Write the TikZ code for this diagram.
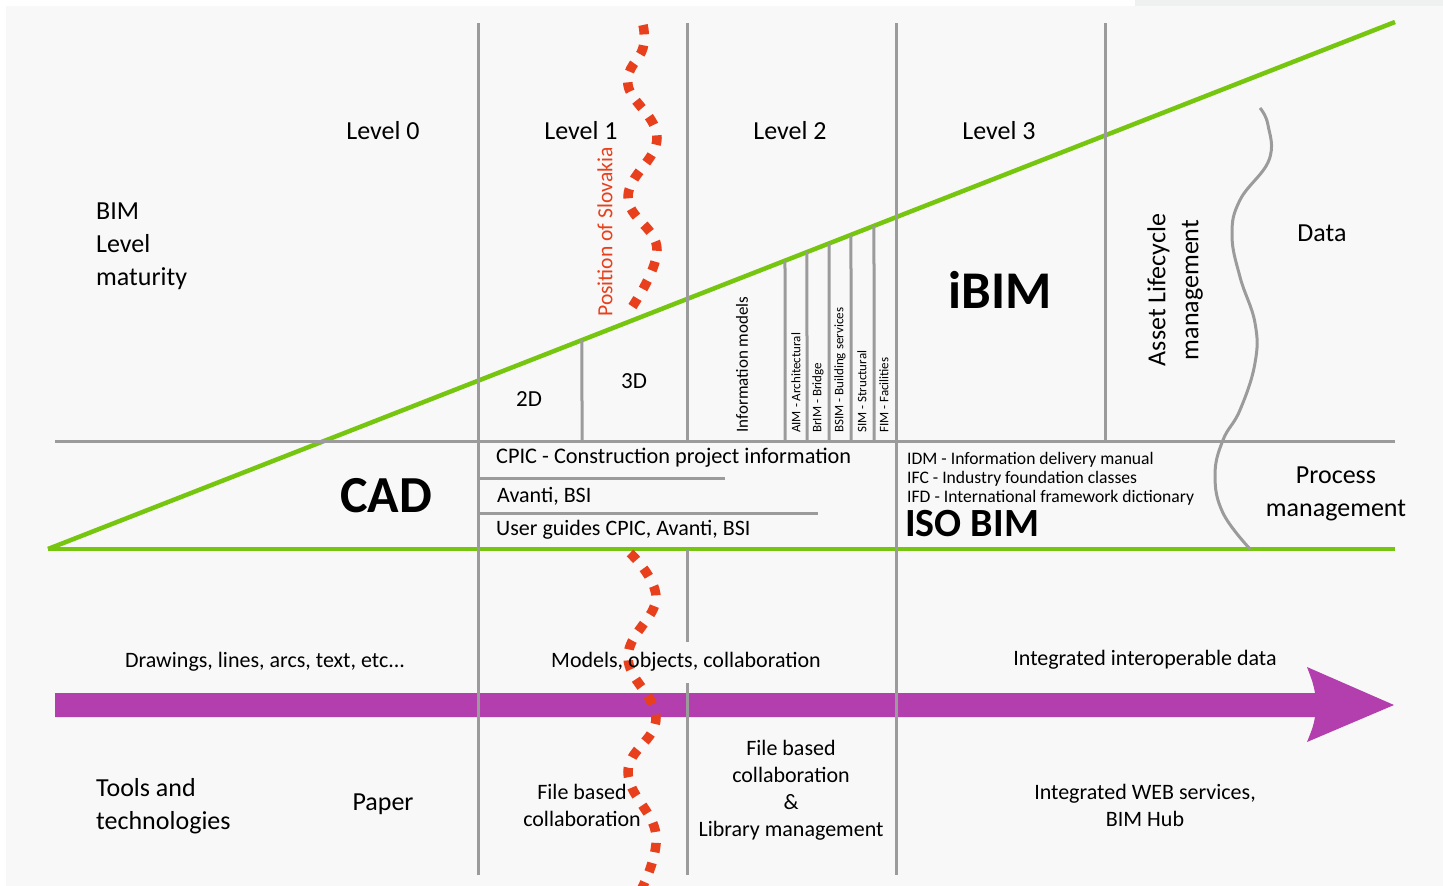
\documentclass[tikz,border=0pt]{standalone}
\usepackage{fontspec}
\setmainfont{Carlito}
\usetikzlibrary{calc}

\definecolor{bimgreen}{RGB}{118,197,14}
\definecolor{bimpurple}{RGB}{179,63,174}
\definecolor{bimred}{RGB}{232,64,28}
\definecolor{bimgray}{RGB}{155,155,155}
\definecolor{bgpaper}{RGB}{248,248,248}
\definecolor{bgcorner}{RGB}{239,241,240}

\newcommand{\fsz}[2]{\fontsize{#1}{#2}\selectfont}

\tikzset{
    gridline/.style={bimgray, line width=3pt},
    levelline/.style={bimgreen, line width=4.5pt},
    slovakline/.style={bimred, line width=9.5pt, dash pattern=on 9.5pt off 11pt},
    txt/.style={inner sep=0pt, font=\fsz{26}{33}},
    midtxt/.style={inner sep=0pt, font=\fsz{22}{27}},
    smalltxt/.style={inner sep=0pt, font=\fsz{17.6}{19}},
    tinytxt/.style={inner sep=0pt, font=\fsz{13}{15}, rotate=90, anchor=west},
}

\begin{document}
\begin{tikzpicture}[x=1pt, y=-1pt]
    \useasboundingbox (0,0) rectangle (1443,886);
    % the paper behind everything
    \fill[white] (0,0) rectangle (1443,886);
    \fill[bgpaper] (6,6) rectangle (1443,886);
    \fill[bgcorner] (1135,0) rectangle (1443,6);

    % the purple arrow of tools
    \fill[bimpurple] (55,693) -- (1315,693) .. controls (1313,683) .. (1307,667)
        -- (1394,705) -- (1307,742) .. controls (1313,727) .. (1315,717)
        -- (55,717) -- cycle;

    % the green triangle of maturity
    \coordinate (tipL) at (48,549);
    \coordinate (tipR) at (1395,22);
    \coordinate (baseR) at (1395,549);
    \draw[levelline] (tipL) -- (tipR);
    \draw[levelline] (tipL) -- (baseR);

    % the horizontal line between data and process
    \draw[gridline] (55,441) -- (1395,441);
    % the lines under CPIC and Avanti
    \draw[gridline] (478,478) -- (725,478);
    \draw[gridline] (478,513) -- (818,513);

    % the vertical lines between the levels
    \foreach \x in {478, 896}
    \draw[gridline] (\x,23) -- (\x,875);
    \draw[gridline] (687,23) -- (687,441);
    \draw[gridline] (687,550) -- (687,642);
    \draw[gridline] (687,683) -- (687,875);
    \draw[gridline] (1105,23) -- (1105,441);

    % the short lines under the slope
    \foreach \x in {582, 785, 807, 829, 851, 874}
    \draw[gridline] ($(tipL)!{(\x-48)/1347}!(tipR)$) -- (\x,441);

    % the wavy line between data and management
    \draw[bimgray, line width=3pt] plot[smooth, tension=0.7] coordinates {
        (1260,108) (1268,125) (1269,160) (1240,200) (1232,235) (1240,277)
        (1255,323) (1255,363) (1240,410) (1223,440) (1215,475) (1223,513) (1250,549)};

    % the red dotted waves for Slovakia
    \draw[slovakline] plot[smooth, tension=0.7] coordinates {
        (643,25) (643,48) (628,85) (657,138) (628,197) (657,250) (628,313)};
    \draw[slovakline] plot[smooth, tension=0.7] coordinates {
        (630,553) (656,598) (628,657) (656,718) (628,772) (656,835) (640,892)};

    % the level headings
    \node[txt] (lvl0) at (383,131) {Level 0};
    \node[txt] (lvl1) at (581,131) {Level 1};
    \node[txt] (lvl2) at (790,131) {Level 2};
    \node[txt] (lvl3) at (999,131) {Level 3};

    % the row labels on the left
    \node[txt, align=left, anchor=west] (maturity) at (96,246) {BIM\\Level\\maturity};
    \node[txt, align=left, anchor=west] (tools) at (96,806) {Tools and\\technologies};

    % the position of Slovakia
    \node[inner sep=0pt, font=\fsz{21.6}{25}, text=bimred, rotate=90] (slovakia) at (605,232) {Position of Slovakia};

    % 2D and 3D
    \node[midtxt, font=\fsz{23}{27}] (twod) at (529,399) {2D};
    \node[midtxt, font=\fsz{23}{27}] (threed) at (634,381) {3D};

    % the information models
    \node[inner sep=0pt, font=\fsz{17}{19}, rotate=90, anchor=west] (infomodels) at (742,433) {Information models};
    \node[tinytxt] (aim) at (796,433) {AIM - Architectural};
    \node[tinytxt] (brim) at (818,433) {BrIM - Bridge};
    \node[tinytxt] (bsim) at (840,433) {BSIM - Building services};
    \node[tinytxt] (sim) at (862,433) {SIM - Structural};
    \node[tinytxt] (fim) at (884,433) {FIM - Facilities};

    % the big labels
    \node[inner sep=0pt, font=\bfseries\fsz{53}{60}] (ibim) at (1000,290) {iBIM};
    \node[inner sep=0pt, font=\bfseries\fsz{52}{60}] (cad) at (386,496) {CAD};
    \node[inner sep=0pt, font=\bfseries\fsz{40}{44}, anchor=west] (isobim) at (905,524) {ISO BIM};

    % asset lifecycle and data
    \node[txt, rotate=90, align=center] (asset) at (1175,290) {Asset Lifecycle\\management};
    \node[txt] (data) at (1322,233) {Data};
    \node[txt, align=center] (process) at (1336,494) {Process\\management};

    % the standards of level 1
    \node[midtxt, font=\fsz{22.3}{27}, anchor=west] (cpic) at (496,458) {CPIC - Construction project information};
    \node[midtxt, anchor=west] (avanti) at (497,496) {Avanti, BSI};
    \node[midtxt, anchor=west] (guides) at (496,530) {User guides CPIC, Avanti, BSI};

    % the standards of level 3
    \node[smalltxt, anchor=west] (idm) at (907,460) {IDM - Information delivery manual};
    \node[smalltxt, anchor=west] (ifc) at (907,479) {IFC - Industry foundation classes};
    \node[smalltxt, anchor=west] (ifd) at (907,498) {IFD - International framework dictionary};

    % the labels above the arrow
    \node[midtxt] (drawings) at (265,662) {Drawings, lines, arcs, text, etc...};
    \node[midtxt] (models) at (686,662) {Models, objects, collaboration};
    \node[midtxt] (integrated) at (1145,660) {Integrated interoperable data};

    % the labels under the arrow
    \node[txt] (paper) at (383,804) {Paper};
    \node[midtxt, align=center] (filebased) at (582,805) {File based\\collaboration};
    \node[midtxt, align=center] (library) at (791,790) {File based\\collaboration\\\&\\Library management};
    \node[midtxt, align=center] (webservices) at (1145,805) {Integrated WEB services,\\BIM Hub};
\end{tikzpicture}
\end{document}
